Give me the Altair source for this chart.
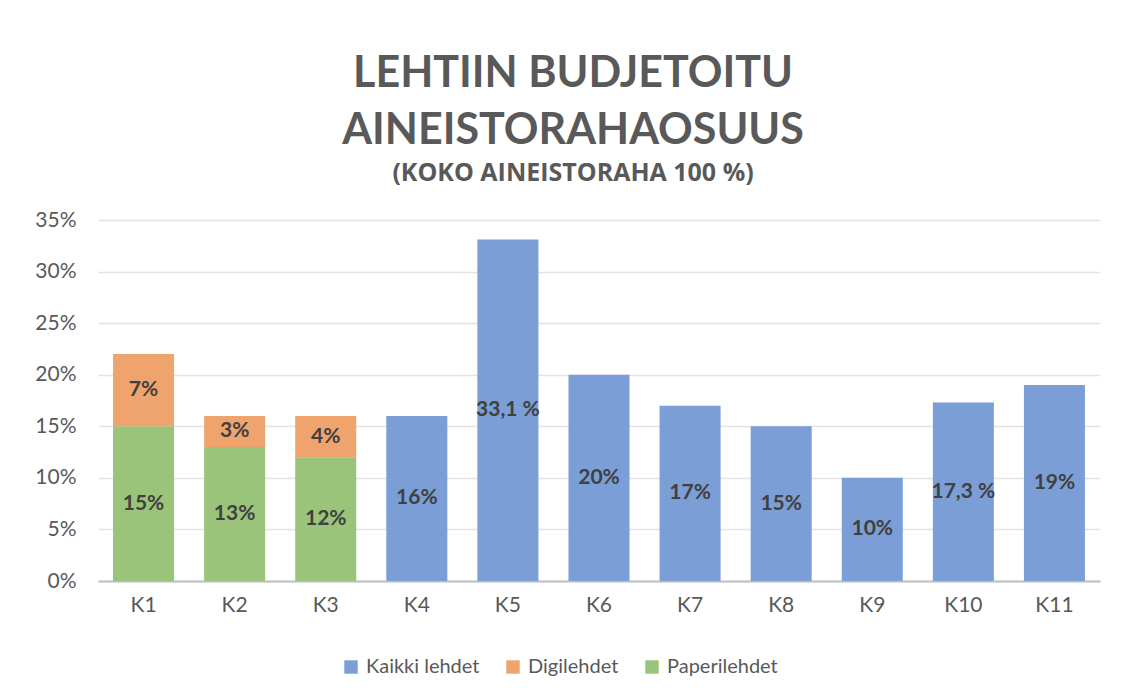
import altair as alt
import pandas as pd

categories = ["K1", "K2", "K3", "K4", "K5", "K6", "K7", "K8", "K9", "K10", "K11"]
series_names = ["Kaikki lehdet", "Digilehdet", "Paperilehdet"]
series_colors = ["#7B9ED6", "#F0A46D", "#9BC47B"]

paper_values = [15, 13, 12]
paper_labels = ["15%", "13%", "12%"]
digi_values = [7, 3, 4]
digi_labels = ["7%", "3%", "4%"]
all_cats = ["K4", "K5", "K6", "K7", "K8", "K9", "K10", "K11"]
all_values = [16, 33.1, 20, 17, 15, 10, 17.3, 19]
all_labels = ["16%", "33,1 %", "20%", "17%", "15%", "10%", "17,3 %", "19%"]

rows = []
for c, v, l in zip(categories[:3], paper_values, paper_labels):
    rows.append({"cat": c, "series": "Paperilehdet", "value": v, "label": l, "ord": 0})
for c, v, l in zip(categories[:3], digi_values, digi_labels):
    rows.append({"cat": c, "series": "Digilehdet", "value": v, "label": l, "ord": 1})
for c, v, l in zip(all_cats, all_values, all_labels):
    rows.append({"cat": c, "series": "Kaikki lehdet", "value": v, "label": l, "ord": 0})
df = pd.DataFrame(rows)

FONT = "Lato"

base = alt.Chart(df).transform_stack(
    stack="value", groupby=["cat"], as_=["y0", "y1"],
    sort=[alt.SortField("ord", order="ascending")]
).transform_calculate(mid="(datum.y0 + datum.y1) / 2")

x_enc = alt.X("cat:N", sort=categories, title=None,
              scale=alt.Scale(paddingInner=0.33, paddingOuter=0.165),
              axis=alt.Axis(labelAngle=0, labelFontSize=21, labelColor="#595959",
                            labelFont=FONT, labelPadding=13, ticks=False,
                            domainColor="#BFBFBF", domainWidth=2, grid=False))

bars = base.mark_bar().encode(
    x=x_enc,
    y=alt.Y("y0:Q", title=None,
            scale=alt.Scale(domain=[0, 35], nice=False),
            axis=alt.Axis(values=[0, 5, 10, 15, 20, 25, 30, 35],
                          labelExpr="datum.value + '%'", labelFontSize=21,
                          labelColor="#595959", labelFont=FONT, labelPadding=22,
                          ticks=False, domain=False, gridColor="#E3E3E3",
                          gridWidth=1.5)),
    y2="y1:Q",
    color=alt.Color("series:N", title=None,
                    scale=alt.Scale(domain=series_names, range=series_colors),
                    legend=alt.Legend(orient="none", direction="horizontal",
                                      legendX=243, legendY=437,
                                      symbolType="square", symbolSize=180,
                                      symbolStrokeWidth=0, symbolOpacity=1,
                                      labelFontSize=20, labelFont=FONT,
                                      labelColor="#595959", columnPadding=23,
                                      labelOffset=5)),
)

texts = base.mark_text(font=FONT, fontWeight="bold", fontSize=21,
                       color="#404040").encode(
    x=alt.X("cat:N", sort=categories),
    y=alt.Y("mid:Q"),
    text="label:N",
)

chart = alt.layer(bars, texts).properties(
    width=1002,
    height=361,
    autosize=alt.AutoSizeParams(type="none"),
    padding={"left": 90, "top": 212, "right": 23, "bottom": 111},
    background="white",
    title=alt.TitleParams(
        text=["LEHTIIN BUDJETOITU", "AINEISTORAHAOSUUS"],
        subtitle="(KOKO AINEISTORAHA 100 %)",
        font=FONT, fontSize=43, fontWeight="bold", color="#595959",
        lineHeight=57,
        subtitleFont="Open Sans", subtitleFontSize=25, subtitleFontWeight="bold",
        subtitleColor="#595959", subtitlePadding=8,
        anchor="middle", dx=-26, offset=23,
    ),
).configure_view(stroke=None)

chart.save("out.html", embed_options={"renderer": "svg", "actions": False})
